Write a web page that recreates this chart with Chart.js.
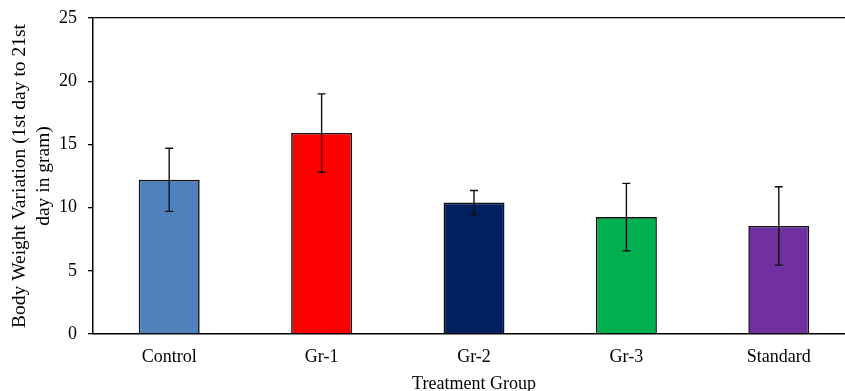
<!DOCTYPE html>
<html>
<head>
<meta charset="utf-8">
<script src="https://cdn.jsdelivr.net/npm/chart.js@4"></script>
<style>
  html, body { margin: 0; padding: 0; overflow: hidden; background: #fff; }
  #wrap { width: 856px; height: 404px; }
</style>
</head>
<body>
<div id="wrap"><canvas id="bwChart" width="856" height="404"></canvas></div>
<script>
const groups = ["Control", "Gr-1", "Gr-2", "Gr-3", "Standard"];
const meanGain = [12.2, 15.9, 10.4, 9.25, 8.55];
const sdGain = [2.5, 3.1, 0.95, 2.67, 3.1];
const barColors = ["#4F81BD", "#FF0000", "#002060", "#00B050", "#7030A0"];
const yTicks = [0, 5, 10, 15, 20, 25];

const serif = "'Liberation Serif', 'Times New Roman', serif";
const tickFont = { family: serif, size: 18 };

// draws the +/- error bars on top of each bar
const errorBars = {
  id: "errorBars",
  afterDatasetsDraw(chart) {
    const { ctx, scales: { x, y } } = chart;
    ctx.save();
    ctx.strokeStyle = "#111";
    ctx.lineWidth = 1.4;
    meanGain.forEach((m, i) => {
      const cx = x.getPixelForValue(i);
      const top = y.getPixelForValue(m + sdGain[i]);
      const bot = y.getPixelForValue(m - sdGain[i]);
      ctx.beginPath();
      ctx.moveTo(cx, top);
      ctx.lineTo(cx, bot);
      ctx.moveTo(cx - 4, top);
      ctx.lineTo(cx + 4, top);
      ctx.moveTo(cx - 4, bot);
      ctx.lineTo(cx + 4, bot);
      ctx.stroke();
    });
    ctx.restore();
  }
};

new Chart(document.getElementById("bwChart"), {
  type: "bar",
  data: {
    labels: groups,
    datasets: [{
      data: meanGain,
      backgroundColor: barColors,
      borderColor: "#111",
      borderWidth: 1.6,
      barPercentage: 0.4,
      categoryPercentage: 1
    }]
  },
  options: {
    responsive: false,
    animation: false,
    layout: { padding: { top: 18, left: 0, right: 1, bottom: 0 } },
    plugins: {
      legend: { display: false },
      tooltip: { enabled: false }
    },
    scales: {
      x: {
        grid: { display: false, drawTicks: false },
        border: { display: true, color: "#000", width: 1.5 },
        ticks: { color: "#000", font: tickFont, padding: 12 },
        title: {
          display: true,
          text: "Treatment Group",
          color: "#000",
          font: tickFont,
          padding: { top: 0, bottom: 9 }
        },
        afterFit: s => { s.height = 70; }
      },
      y: {
        min: 0,
        max: 25,
        afterBuildTicks: s => { s.ticks = yTicks.map(v => ({ value: v })); },
        grid: {
          color: c => (c.tick && c.tick.value === 25 ? "#000" : "rgba(0,0,0,0)"),
          tickColor: "#000",
          tickLength: 5,
          lineWidth: 1.3
        },
        border: { display: true, color: "#000", width: 1.5 },
        ticks: { color: "#000", font: tickFont, padding: 11 },
        title: {
          display: true,
          text: ["Body Weight Variation (1st day to 21st", "day in gram)"],
          color: "#000",
          font: { family: serif, size: 19.5, lineHeight: 1.23 },
          padding: { top: 8, bottom: 0 }
        },
        afterFit: s => {
          s.width = 93;
          s.paddingTop = 0;
          s.paddingBottom = 0;
        }
      }
    }
  },
  plugins: [errorBars]
});
</script>
</body>
</html>
